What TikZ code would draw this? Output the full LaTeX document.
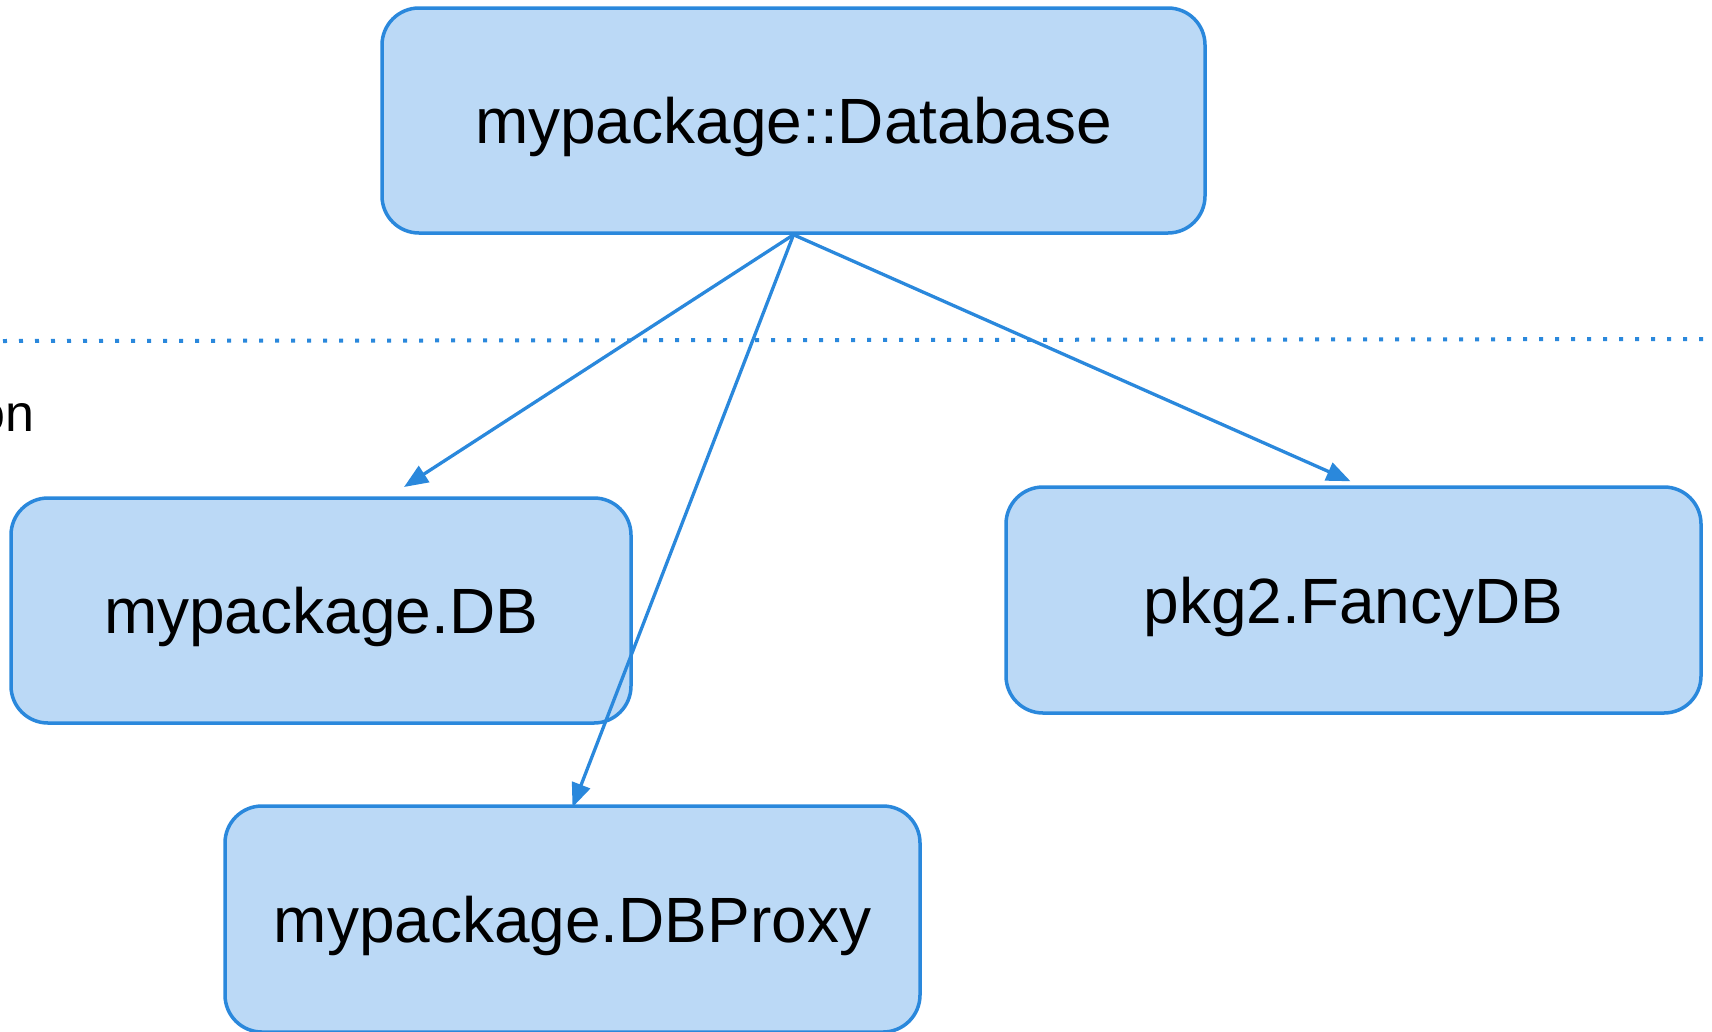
\documentclass[tikz,border=0pt]{standalone}
\usepackage{fontspec}
\setmainfont{Liberation Sans}
\usetikzlibrary{arrows.meta}
\definecolor{boxfill}{HTML}{BBD9F6}
\definecolor{boxline}{HTML}{2A88DC}
\tikzset{
  classbox/.style={draw=boxline, fill=boxfill, line width=3.5pt, rounded corners=37pt,
    inner sep=0pt, text depth=0pt, font=\fontsize{64}{76}\selectfont},
  inherit/.style={draw=boxline, line width=3.3pt, -{Triangle[length=24pt,width=19pt]}},
  divider/.style={draw=boxline, line width=4pt, dash pattern=on 4pt off 12pt, dash phase=-3pt}
}
\begin{document}
\begin{tikzpicture}[x=1pt,y=-1pt]
  \useasboundingbox (0,0) rectangle (1712,1031);
  \clip (0,0) rectangle (1712,1031);
  % package divider and its (partly hidden) label
  \coordinate (divL) at (0,341);
  \coordinate (divR) at (1712,339);
  \draw[divider] (divL) -- (divR);
  \node[anchor=base west, inner sep=0pt, font=\fontsize{52}{62}\selectfont] (pkglabel) at (-24,431) {on};
  % classes
  \node[classbox, minimum width=823pt, minimum height=225pt] (base) at (793.5,120.5) {mypackage::Database};
  \node[classbox, minimum width=620pt, minimum height=225pt] (db) at (321,610.5) {mypackage.DB};
  \node[classbox, minimum width=695pt, minimum height=226pt] (fancy) at (1353.5,600) {pkg2.FancyDB};
  \node[classbox, minimum width=695pt, minimum height=226pt] (proxy) at (572.5,919) {mypackage.DBProxy};
  % inheritance arrows
  \coordinate (dbin) at (404,487);
  \draw[inherit] (base.south) -- (dbin);
  \draw[inherit] (base.south) -- ([yshift=-3pt]proxy.north);
  \draw[inherit] (base.south) -- ([xshift=-3pt,yshift=4pt]fancy.north);
\end{tikzpicture}
\end{document}
